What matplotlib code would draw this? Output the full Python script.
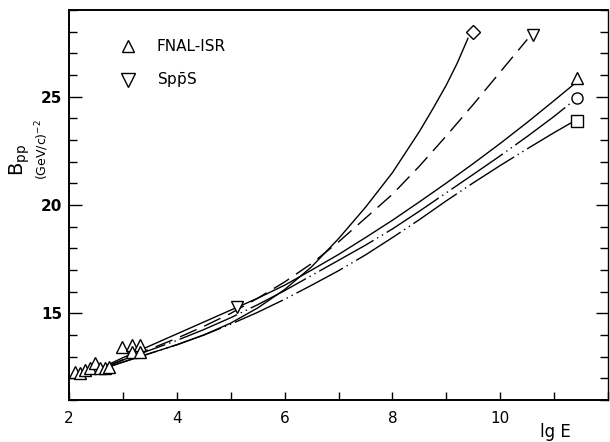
import matplotlib.pyplot as plt
from matplotlib.ticker import FixedLocator, MultipleLocator

# FNAL-ISR measurements
fnal_lgE = [2.11, 2.2, 2.29, 2.39, 2.48, 2.57, 2.66, 2.74, 2.99, 3.17, 3.32, 3.17, 3.32]
fnal_B = [12.3, 12.27, 12.38, 12.46, 12.7, 12.5, 12.46, 12.54, 13.45, 13.55, 13.52, 13.22, 13.2]

# SppS measurement
sps_lgE = [5.11]
sps_B = [15.3]

# model curves
grid_lgE = [2.7, 3.0, 3.5, 4.0, 4.5, 5.0, 5.5, 6.0, 6.5, 7.0, 7.5, 8.0, 8.5, 9.0,
            9.5, 10.0, 10.5, 11.0, 11.35]
curve_tri = [12.6, 12.95, 13.5, 14.05, 14.6, 15.15, 15.7, 16.3, 17.0, 17.72, 18.5,
             19.3, 20.15, 21.02, 21.92, 22.85, 23.82, 24.83, 25.55]
curve_circ = [12.55, 12.85, 13.3, 13.75, 14.25, 14.8, 15.4, 16.05, 16.75, 17.45,
              18.15, 18.9, 19.72, 20.57, 21.42, 22.28, 23.17, 24.1, 24.8]
curve_sq = [12.5, 12.75, 13.15, 13.55, 14.0, 14.5, 15.05, 15.65, 16.3, 16.97, 17.7,
            18.5, 19.33, 20.2, 21.03, 21.83, 22.6, 23.35, 23.85]

diam_lgE = [2.7, 3.0, 3.5, 4.0, 4.5, 5.0, 5.5, 6.0, 6.5, 7.0, 7.5, 8.0, 8.5, 8.75,
            9.0, 9.2, 9.4]
curve_diam = [12.5, 12.75, 13.15, 13.55, 14.0, 14.55, 15.25, 16.1, 17.15, 18.45,
              19.9, 21.5, 23.4, 24.45, 25.55, 26.55, 27.7]

dash_lgE = [2.7, 3.0, 3.5, 4.0, 4.5, 5.0, 5.5, 6.0, 6.5, 7.0, 7.5, 8.0, 8.5, 9.0,
            9.5, 10.0, 10.5]
curve_dash = [12.55, 12.85, 13.35, 13.85, 14.4, 15.0, 15.7, 16.45, 17.3, 18.3, 19.4,
              20.5, 21.8, 23.2, 24.65, 26.15, 27.65]

# end symbols of the curves
end_diam = (9.49, 28.0)
end_dtri = (10.6, 27.85)
end_tri = (11.42, 25.85)
end_circ = (11.43, 24.94)
end_sq = (11.42, 23.9)

x_labels = [2, 4, 6, 8, 10]

fig = plt.figure(figsize=(6.1, 4.42), dpi=100)
ax = fig.add_axes([0.113, 0.095, 0.884, 0.882])

lw = 1.0
ax.plot(diam_lgE, curve_diam, color="black", lw=lw)
ax.plot(dash_lgE, curve_dash, color="black", lw=lw, dashes=(13, 6))
ax.plot(grid_lgE, curve_tri, color="black", lw=lw)
ax.plot(grid_lgE, curve_circ, color="black", lw=lw, dashes=(45, 3, 1, 3, 1, 3))
ax.plot(grid_lgE, curve_sq, color="black", lw=lw, dashes=(38, 3, 1, 3, 1, 3))

mk = dict(color="white", markeredgecolor="black", markeredgewidth=1.0, zorder=5,
          linestyle="none")
ax.plot(*end_diam, marker="D", markersize=7, **mk)
ax.plot(*end_dtri, marker="v", markersize=9, **mk)
ax.plot(*end_tri, marker="^", markersize=9, **mk)
ax.plot(*end_circ, marker="o", markersize=8, **mk)
ax.plot(*end_sq, marker="s", markersize=8, **mk)

h1, = ax.plot(fnal_lgE, fnal_B, marker="^", markersize=8, label="FNAL-ISR", **mk)
h2, = ax.plot(sps_lgE, sps_B, marker="v", markersize=9,
              label=r"Sp$\bar{\mathrm{p}}$S", **mk)

ax.legend(handles=[h1, h2], loc="upper left", bbox_to_anchor=(0.095, 0.925),
          frameon=False, fontsize=11, handlelength=1.0, handletextpad=1.4,
          labelspacing=1.1, borderpad=0, borderaxespad=0, markerscale=1.15)

ax.set_xlim(2, 12)
ax.set_ylim(11, 29)
ax.xaxis.set_major_locator(FixedLocator(x_labels))
ax.xaxis.set_minor_locator(MultipleLocator(1))
ax.yaxis.set_major_locator(MultipleLocator(5))
ax.yaxis.set_minor_locator(MultipleLocator(1))

for s in ax.spines.values():
    s.set_linewidth(1.4)
ax.spines["right"].set_linewidth(1.0)

ax.tick_params(axis="x", which="both", direction="in", length=6, width=1.0,
               top=False, labelsize=11, pad=8)
ax.tick_params(axis="y", which="major", direction="in", length=9, width=1.0,
               right=True, labelsize=11, pad=5)
ax.tick_params(axis="y", which="minor", direction="in", length=6, width=1.0,
               right=True)
for t in ax.get_yticklabels():
    t.set_fontweight("bold")

fig.text(20 / 610, 1 - 160 / 442, r"B$_{\rm pp}$", rotation=90, fontsize=14,
         ha="center", va="center")
fig.text(42 / 610, 1 - 150 / 442, r"(GeV/c)$^{-2}$", rotation=90, fontsize=9,
         ha="center", va="center")
fig.text(555 / 610, 1 - 432 / 442, "lg E", fontsize=12, ha="center", va="center")

fig.savefig("out.png", dpi=100)
